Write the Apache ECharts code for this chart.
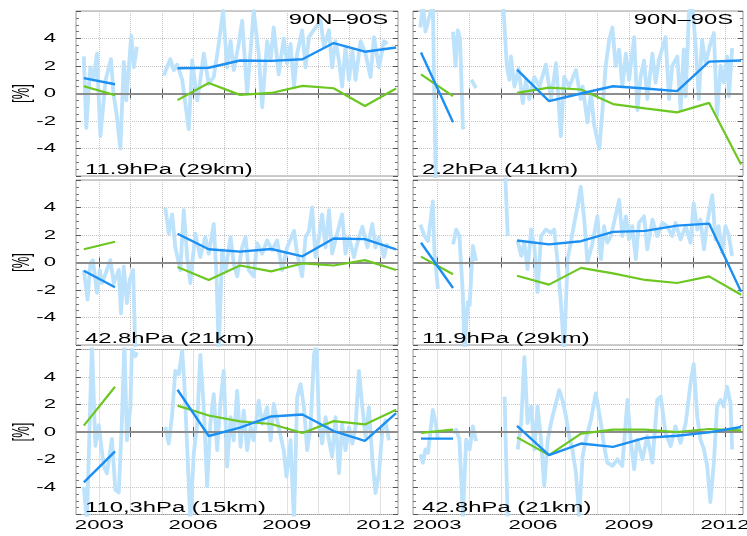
<!DOCTYPE html>
<html><head><meta charset="utf-8">
<script src="https://cdn.jsdelivr.net/npm/echarts@6/dist/echarts.min.js"></script>
<style>html,body{margin:0;padding:0;background:#fff}#c{width:747px;height:536px}</style>
</head><body><div id="c"></div>
<script>
// ---------- data ----------
const X_MIN = 2002.25, X_MAX = 2012.56;
const yearTicks = [2003,2004,2005,2006,2007,2008,2009,2010,2011,2012];
const yearLabels = [2003, 2006, 2009, 2012];
const yTickLabels = [4, 2, 0, -2, -4];
const panelLabels = ['11.9hPa (29km)','2.2hPa (41km)','42.8hPa (21km)','11.9hPa (29km)','110,3hPa (15km)','42.8hPa (21km)'];
const regionLabels = ['90N\u201390S','90N\u201390S','','','',''];
const unitLabel = '[%]';
const GAP = null;

// annual trend points (mid-year)
const trendYears = [2002.5,2003.5,2004.5,2005.5,2006.5,2007.5,2008.5,2009.5,2010.5,2011.5,2012.5];
const p1Blue  = [1.12,0.67,null,1.84,1.87,2.40,2.37,2.49,3.67,3.04,3.35];
const p1Green = [0.53,-0.12,null,-0.48,0.76,-0.10,0.04,0.55,0.38,-0.91,0.36];
const p2Blue  = [2.99,-2.09,null,1.73,-0.55,0.00,0.53,0.36,0.17,2.32,2.40];
const p2Green = [1.39,-0.19,null,0.04,0.43,0.29,-0.77,-1.08,-1.37,-0.68,-5.16];
const p3Blue  = [-0.60,-1.80,null,2.09,0.96,0.79,0.98,0.45,1.75,1.70,0.96];
const p3Green = [0.96,1.51,null,-0.32,-1.27,-0.22,-0.65,-0.07,-0.22,0.17,-0.55];
const p4Blue  = [1.44,-1.85,null,1.60,1.32,1.55,2.23,2.30,2.68,2.83,-2.12];
const p4Green = [0.43,-0.86,null,-0.96,-1.61,-0.39,-0.79,-1.27,-1.49,-1.01,-2.35];
const p5Blue  = [-3.67,-1.41,null,3.07,-0.29,0.32,1.13,1.27,0.07,-0.65,1.37];
const p5Green = [0.46,3.29,null,1.92,1.20,0.77,0.58,-0.07,0.79,0.55,1.61];
const p6Blue  = [-0.48,-0.48,null,0.45,-1.68,-0.84,-1.08,-0.43,-0.27,-0.03,0.36];
const p6Green = [-0.07,0.17,null,-0.39,-1.68,-0.12,0.17,0.17,0.00,0.22,0.12];

// monthly anomalies [year, %]
const p1Light = [[2002.50,2.7],[2002.58,-2.5],[2002.66,0.5],[2002.71,1.9],[2002.81,1.0],[2002.92,2.9],[2003.03,-3.1],[2003.20,1.0],[2003.37,2.5],[2003.45,0.0],[2003.55,-1.5],[2003.67,-4.0],[2003.78,2.3],[2003.86,-0.5],[2004.02,4.2],[2004.10,1.9],[2004.20,3.4],GAP,
[2005.06,1.3],[2005.27,2.5],[2005.38,1.7],[2005.49,2.1],[2005.65,1.0],[2005.86,-2.6],[2005.97,2.4],[2006.13,-0.5],[2006.23,1.0],[2006.34,2.9],[2006.50,0.7],[2006.66,1.2],[2006.82,3.6],[2006.96,6.0],[2007.09,1.9],[2007.20,3.8],[2007.30,1.7],[2007.46,3.6],[2007.57,5.3],[2007.73,0.0],[2007.94,6.0],[2008.10,2.9],[2008.21,-1.0],[2008.37,3.8],[2008.48,2.4],[2008.58,4.8],[2008.74,1.4],[2008.90,4.0],[2009.01,2.2],[2009.12,3.6],[2009.23,0.5],[2009.33,2.9],[2009.49,4.6],[2009.60,1.9],[2009.71,4.1],[2009.92,4.8],[2010.08,5.3],[2010.19,3.4],[2010.35,4.6],[2010.45,1.9],[2010.56,3.8],[2010.67,2.4],[2010.77,0.5],[2010.88,3.4],[2010.99,1.0],[2011.10,3.1],[2011.20,1.0],[2011.36,3.8],[2011.52,2.9],[2011.68,1.2],[2011.79,4.1],[2011.95,1.9],[2012.11,3.8],[2012.22,3.6]];
const p2Light = [[2002.48,4.8],[2002.56,6.5],[2002.64,4.5],[2002.75,5.5],[2002.87,6.5],[2002.96,-6.5],GAP,
[2003.50,4.5],[2003.58,2.0],[2003.65,4.6],[2003.72,4.0],[2003.81,-2.5],[2003.86,-2.4],GAP,[2004.07,1.0],[2004.22,0.4],GAP,
[2005.07,6.5],[2005.18,2.0],[2005.26,1.0],[2005.31,2.7],[2005.42,0.5],[2005.55,1.8],[2005.68,-0.7],[2005.78,1.0],[2005.88,-0.4],[2006.04,1.2],[2006.20,0.5],[2006.40,2.1],[2006.56,-0.4],[2006.72,2.2],[2006.87,-3.1],[2006.97,1.2],[2007.13,0.5],[2007.34,1.7],[2007.49,-0.4],[2007.55,0.5],[2007.70,-2.1],[2007.81,0.05],[2007.91,-2.3],[2008.07,-4.0],[2008.17,-1.2],[2008.27,2.0],[2008.38,3.9],[2008.48,4.8],[2008.58,2.0],[2008.69,3.2],[2008.79,0.5],[2008.90,2.9],[2009.00,1.0],[2009.16,4.1],[2009.26,-1.2],[2009.36,1.2],[2009.47,2.4],[2009.57,-0.4],[2009.73,2.9],[2009.83,0.8],[2009.93,2.4],[2010.14,4.1],[2010.25,-0.4],[2010.35,2.0],[2010.51,2.7],[2010.61,-1.2],[2010.71,3.2],[2010.77,-0.2],[2010.87,5.8],[2010.97,6.5],[2011.08,3.6],[2011.18,-0.4],[2011.28,3.9],[2011.39,2.2],[2011.54,3.6],[2011.65,4.4],[2011.75,-1.6],[2011.86,2.0],[2011.96,0.8],[2012.06,2.7],[2012.12,-0.2],[2012.22,3.3]];
const p3Light = [[2002.50,-0.55],[2002.62,-2.7],[2002.71,-0.07],[2002.79,0.17],[2002.92,-2.2],[2003.01,-0.55],[2003.08,-1.5],[2003.20,-0.8],[2003.35,0.17],[2003.46,-1.5],[2003.62,-0.55],[2003.69,-3.7],[2003.78,-0.3],[2003.88,-2.95],[2003.97,-1.27],[2004.08,-0.55],[2004.15,-6.5],GAP,
[2005.11,4.0],[2005.22,2.1],[2005.33,3.5],[2005.43,1.1],[2005.59,-0.55],[2005.70,3.8],[2005.81,0.4],[2005.91,-1.5],[2006.07,2.1],[2006.23,0.4],[2006.39,1.85],[2006.50,0.65],[2006.66,2.8],[2006.75,-1.0],[2006.82,-6.5],[2006.93,0.9],[2007.04,-0.55],[2007.20,1.85],[2007.30,-0.07],[2007.41,-1.0],[2007.57,1.1],[2007.68,1.85],[2007.78,-0.55],[2007.94,-1.0],[2008.05,1.4],[2008.21,0.65],[2008.37,1.6],[2008.53,0.9],[2008.69,1.6],[2008.85,-0.55],[2009.01,1.1],[2009.23,2.3],[2009.33,0.65],[2009.49,-1.0],[2009.60,1.85],[2009.71,2.3],[2009.81,4.0],[2009.92,0.4],[2010.03,1.85],[2010.13,3.5],[2010.24,1.1],[2010.35,3.8],[2010.45,0.65],[2010.61,2.1],[2010.77,3.5],[2010.88,0.65],[2010.99,1.85],[2011.15,0.4],[2011.31,1.85],[2011.42,2.6],[2011.58,1.1],[2011.74,2.8],[2011.84,1.1],[2011.95,1.85],[2012.11,0.4],[2012.22,1.4]];
const p4Light = [[2002.48,2.76],[2002.61,1.92],[2002.72,1.56],[2002.87,4.44],[2002.92,0.72],[2003.03,-1.92],GAP,
[2003.50,1.32],[2003.60,2.4],[2003.70,1.92],[2003.81,-2.4],[2003.86,-6.5],[2003.96,-2.88],[2004.02,-3.1],[2004.12,1.2],[2004.22,0.12],GAP,[2005.13,6.5],[2005.21,1.92],GAP,
[2005.52,1.56],[2005.63,0.48],[2005.73,1.44],[2005.83,-0.48],[2005.94,2.4],[2006.04,1.2],[2006.14,-2.16],[2006.25,1.92],[2006.40,2.4],[2006.56,2.16],[2006.66,2.4],[2006.77,0.0],[2006.87,-2.88],[2006.97,-6.5],[2007.08,0.24],[2007.18,1.44],[2007.29,2.88],[2007.39,4.08],[2007.49,5.5],[2007.60,3.12],[2007.70,0.0],[2007.86,1.44],[2008.01,3.36],[2008.12,0.24],[2008.22,2.64],[2008.32,1.44],[2008.43,1.92],[2008.53,2.88],[2008.69,4.56],[2008.79,1.92],[2008.90,3.36],[2009.00,1.68],[2009.10,2.64],[2009.21,0.24],[2009.31,2.88],[2009.47,3.36],[2009.57,0.96],[2009.73,3.12],[2009.88,1.92],[2010.04,2.88],[2010.19,2.64],[2010.35,1.92],[2010.45,2.88],[2010.61,1.68],[2010.77,2.64],[2010.92,1.44],[2011.02,4.3],[2011.13,2.4],[2011.23,3.12],[2011.34,0.96],[2011.44,2.88],[2011.60,4.9],[2011.70,1.68],[2011.80,2.64],[2011.91,0.72],[2012.01,2.64],[2012.12,1.92],[2012.22,0.48]];
const p5Light = [[2002.50,-4.0],[2002.60,-6.5],[2002.76,6.5],[2002.87,-1.0],[2002.98,0.5],[2003.14,-2.5],[2003.24,-3.0],[2003.40,-0.5],[2003.51,-4.2],[2003.62,-4.4],[2003.72,0.8],[2003.80,6.5],[2003.88,-0.6],[2003.99,1.8],[2004.04,6.0],[2004.15,5.5],[2004.20,5.8],GAP,
[2005.11,0.36],[2005.22,-0.84],[2005.33,1.32],[2005.43,4.44],[2005.54,4.2],[2005.65,5.9],[2005.72,3.48],[2005.81,-1.08],[2005.91,-6.5],[2006.02,-1.56],[2006.13,0.6],[2006.23,5.6],[2006.34,1.8],[2006.45,-3.96],[2006.55,0.6],[2006.66,2.76],[2006.77,-1.32],[2006.88,2.28],[2006.98,4.44],[2007.09,-2.52],[2007.20,1.08],[2007.30,-0.6],[2007.41,3.0],[2007.52,-1.08],[2007.62,1.56],[2007.73,-1.32],[2007.84,0.36],[2007.94,-0.6],[2008.10,2.28],[2008.21,0.6],[2008.37,1.8],[2008.48,-0.6],[2008.58,2.04],[2008.74,0.36],[2008.90,-1.32],[2008.99,-3.24],[2009.12,-0.6],[2009.23,-6.5],[2009.33,2.52],[2009.44,3.48],[2009.55,1.8],[2009.65,-1.32],[2009.76,0.36],[2009.87,5.6],[2009.95,6.5],[2010.03,0.6],[2010.13,-0.84],[2010.24,1.08],[2010.35,-0.6],[2010.45,-1.8],[2010.56,1.08],[2010.67,-3.0],[2010.77,0.6],[2010.88,-1.32],[2010.99,0.36],[2011.10,-0.84],[2011.20,0.36],[2011.31,4.44],[2011.42,1.8],[2011.52,-0.36],[2011.63,1.8],[2011.74,-2.04],[2011.84,-4.44],[2011.95,-3.0],[2012.06,0.12],[2012.16,0.84],[2012.27,-0.6]];
const p6Light = [[2002.48,-1.63],[2002.56,-2.23],[2002.64,-1.27],[2002.72,-1.51],[2002.87,1.6],[2002.96,0.65],[2003.03,-0.55],GAP,
[2003.50,-0.07],[2003.60,0.17],[2003.70,-0.55],[2003.81,-6.1],[2003.91,-0.55],[2004.02,-1.27],[2004.12,0.41],[2004.22,-0.67],GAP,[2005.11,2.57],[2005.21,-6.5],GAP,
[2005.52,-1.27],[2005.63,0.65],[2005.73,5.44],[2005.83,0.65],[2005.94,1.85],[2006.04,-1.27],[2006.14,1.85],[2006.25,-0.55],[2006.35,-3.91],[2006.46,-0.55],[2006.56,0.65],[2006.66,1.6],[2006.82,3.05],[2006.92,2.33],[2007.03,1.13],[2007.13,-0.31],[2007.23,-1.27],[2007.34,-2.95],[2007.44,-6.1],[2007.55,-1.75],[2007.65,-0.55],[2007.81,0.89],[2007.96,2.81],[2008.12,0.65],[2008.22,-1.03],[2008.32,-2.23],[2008.48,-2.47],[2008.64,-1.99],[2008.79,-2.47],[2008.95,2.33],[2009.05,-0.55],[2009.16,-2.71],[2009.26,-0.55],[2009.42,-1.99],[2009.57,-0.31],[2009.73,-2.23],[2009.88,2.33],[2009.99,2.57],[2010.14,-0.07],[2010.30,-1.03],[2010.45,0.41],[2010.61,-0.79],[2010.77,0.65],[2010.92,3.53],[2011.02,4.96],[2011.13,1.13],[2011.23,-0.55],[2011.34,-1.27],[2011.44,-2.47],[2011.54,-5.1],[2011.65,-2.23],[2011.75,1.85],[2011.86,2.33],[2011.96,1.85],[2012.06,3.29],[2012.17,2.09],[2012.22,-1.27]];

const lightSets = [p1Light,p2Light,p3Light,p4Light,p5Light,p6Light];
const blueSets  = [p1Blue,p2Blue,p3Blue,p4Blue,p5Blue,p6Blue];
const greenSets = [p1Green,p2Green,p3Green,p4Green,p5Green,p6Green];

// ---------- layout / style ----------
const GRIDS = [
  {left:76, top:11, width:322, height:165},
  {left:413, top:11, width:330, height:165},
  {left:76, top:180, width:322, height:165},
  {left:413, top:180, width:330, height:165},
  {left:76, top:349.5, width:322, height:165},
  {left:413, top:349.5, width:330, height:165}
];
const C_LIGHT = '#bde2fb', C_BLUE = '#1b8ff2', C_GREEN = '#6cc720', C_ZERO = '#8c8c8c';
const FONT = '"Liberation Sans", Arial, sans-serif';
const SX = 1.7;

const toPairs = arr => arr.map(p => p === null ? ['-','-'] : p);
const toTrend = vals => trendYears.map((y,k) => [y, vals[k] === null ? '-' : vals[k]]);

const grid = [], xAxis = [], yAxis = [], series = [];
GRIDS.forEach((g,i) => {
  grid.push(Object.assign({show:true, borderColor:'#9a9a9a', borderWidth:1, backgroundColor:'#fff'}, g));
});
GRIDS.forEach((g,i) => {
  xAxis.push({gridIndex:i, type:'value', min:X_MIN, max:X_MAX, splitNumber:10, position:'bottom',
    axisLine:{show:false}, axisLabel:{show:false},
    axisTick:{show:true, inside:true, length:5, lineStyle:{color:'#555'}, customValues:yearTicks},
    splitLine:{show:true, lineStyle:{color:'#c4c4c4', type:'dotted', width:1}}});
});
GRIDS.forEach((g,i) => {
  xAxis.push({gridIndex:i, type:'value', min:X_MIN, max:X_MAX, splitNumber:10, position:'top',
    axisLine:{show:false}, axisLabel:{show:false},
    axisTick:{show:true, inside:true, length:5, lineStyle:{color:'#555'}, customValues:yearTicks},
    splitLine:{show:false}});
});
GRIDS.forEach((g,i) => {
  yAxis.push({gridIndex:i, type:'value', min:-6, max:6, interval:2, position:'left',
    axisLine:{show:false}, axisLabel:{show:false},
    axisTick:{show:true, inside:true, length:5, lineStyle:{color:'#555'}},
    minorTick:{show:true, splitNumber:4, length:3, lineStyle:{color:'#777'}},
    splitLine:{show:true, lineStyle:{color:'#c4c4c4', type:'dotted', width:1}}});
});
GRIDS.forEach((g,i) => {
  yAxis.push({gridIndex:i, type:'value', min:-6, max:6, interval:2, position:'right',
    axisLine:{show:false}, axisLabel:{show:false},
    axisTick:{show:true, inside:true, length:5, lineStyle:{color:'#555'}},
    minorTick:{show:true, splitNumber:4, length:3, lineStyle:{color:'#777'}},
    splitLine:{show:false}});
});
GRIDS.forEach((g,i) => {
  series.push({type:'line', xAxisIndex:i, yAxisIndex:i, data:toPairs(lightSets[i]), showSymbol:false,
    connectNulls:false, z:1, lineStyle:{color:C_LIGHT, width:3.8, join:'round'}, itemStyle:{color:C_LIGHT}, silent:true});
  series.push({type:'line', xAxisIndex:i, yAxisIndex:i, data:toTrend(greenSets[i]), showSymbol:false,
    connectNulls:false, z:3, lineStyle:{color:C_GREEN, width:2.2}, itemStyle:{color:C_GREEN}, silent:true,
    markLine:{silent:true, symbol:'none', z:2, label:{show:false}, animation:false,
      lineStyle:{color:C_ZERO, width:2, type:'solid'}, data:[{yAxis:0}]}});
  series.push({type:'line', xAxisIndex:i, yAxisIndex:i, data:toTrend(blueSets[i]), showSymbol:false,
    connectNulls:false, z:4, lineStyle:{color:C_BLUE, width:2.4}, itemStyle:{color:C_BLUE}, silent:true});
});

const chart = echarts.init(document.getElementById('c'), null, {renderer:'canvas'});
chart.setOption({animation:false, backgroundColor:'#fff', grid, xAxis, yAxis, series});

// ---------- text (positions from the library's scales) ----------
const graphics = [];
function txt(text, x, y, align, size, extra) {
  return Object.assign({type:'text', x, y, scaleX:SX, silent:true, z:10,
    style:{text, fill:'#000', fontSize:size, fontFamily:FONT, align, verticalAlign:'middle',
      textAlign:align, textVerticalAlign:'middle'}}, extra || {});
}
GRIDS.forEach((g,i) => {
  const bottom = g.top + g.height;
  graphics.push(txt(panelLabels[i], g.left + 9, bottom - 6, 'left', 14));
  if (regionLabels[i]) graphics.push(txt(regionLabels[i], g.left + g.width - 10, g.top + 9.5, 'right', 14));
  if (i % 2 === 0) {
    yTickLabels.forEach(v => {
      const p = chart.convertToPixel({gridIndex:i}, [X_MIN, v]);
      graphics.push(txt(String(v), g.left - 20, p[1], 'right', 13));
    });
    const z0 = chart.convertToPixel({gridIndex:i}, [X_MIN, 0]);
    graphics.push({type:'text', x:22, y:z0[1], rotation:Math.PI/2, scaleY:1.9, silent:true, z:10,
      style:{text:unitLabel, fill:'#000', fontSize:13, fontFamily:FONT, align:'center', verticalAlign:'middle',
        textAlign:'center', textVerticalAlign:'middle'}});
  }
  if (i >= 4) {
    yearLabels.forEach(yr => {
      const p = chart.convertToPixel({gridIndex:i}, [yr, -6]);
      graphics.push(txt(String(yr), p[0], bottom + 11, 'center', 13));
    });
  }
});
chart.setOption({graphic:{elements:graphics}});
</script>
</body></html>
